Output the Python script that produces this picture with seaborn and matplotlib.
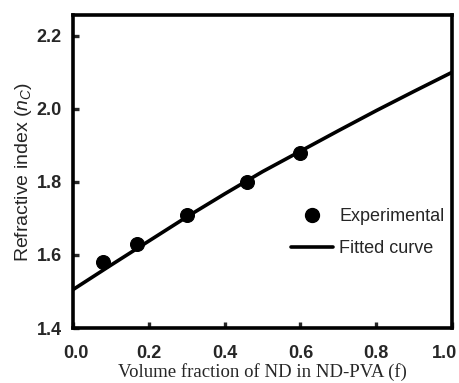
import matplotlib
matplotlib.use("Agg")
import matplotlib.pyplot as plt
import matplotlib.transforms as mtransforms
import seaborn as sns
import pandas as pd
from matplotlib.lines import Line2D

# Experimental data
exp_f = [0.08, 0.17, 0.30, 0.46, 0.60]
exp_n = [1.58, 1.63, 1.71, 1.80, 1.88]

# Fitted curve
fit_f = [0.0, 0.1, 0.2, 0.3, 0.4, 0.5, 0.6, 0.7, 0.8, 0.9, 1.0]
fit_n = [1.505, 1.572, 1.638, 1.704, 1.767, 1.828, 1.884, 1.940, 1.995, 2.048, 2.100]

x_ticks = [0.0, 0.2, 0.4, 0.6, 0.8, 1.0]
y_ticks = [1.4, 1.6, 1.8, 2.0, 2.2]

sns.set_style("ticks")
plt.rcParams['font.family'] = ['Liberation Sans', 'DejaVu Sans']
plt.rcParams['mathtext.fontset'] = 'custom'
plt.rcParams['mathtext.it'] = 'Liberation Sans:italic'
plt.rcParams['mathtext.rm'] = 'Liberation Sans'

fig = plt.figure(figsize=(4.59, 3.83), dpi=100)
ax = fig.add_axes([0.159, 0.1436, 0.826, 0.8175])

df_exp = pd.DataFrame({"f": exp_f, "n": exp_n})
df_fit = pd.DataFrame({"f": fit_f, "n": fit_n})

sns.lineplot(data=df_fit, x="f", y="n", ax=ax, color="black", linewidth=2.6, zorder=2)
sns.scatterplot(data=df_exp, x="f", y="n", ax=ax, color="black", s=100, edgecolor="black", zorder=3)

ax.set_xlim(0, 1.0)
ax.set_ylim(1.4, 2.257)
ax.set_xticks(x_ticks)
ax.set_yticks(y_ticks)
ax.set_xticklabels([f"{v:.1f}" for v in x_ticks], fontsize=13, fontweight="bold")
ax.set_yticklabels([f"{v:.1f}" for v in y_ticks], fontsize=13, fontweight="bold")
ax.tick_params(axis="x", direction="in", length=4, width=2.4, pad=12, top=False)
ax.tick_params(axis="y", direction="in", length=4, width=2.4, pad=8, right=False)

# nudge first and last x tick labels inward, as in the reference
xlabels = ax.get_xticklabels()
xlabels[0].set_transform(xlabels[0].get_transform() +
                         mtransforms.ScaledTranslation(3 / 100, 0, fig.dpi_scale_trans))
xlabels[-1].set_transform(xlabels[-1].get_transform() +
                          mtransforms.ScaledTranslation(-8 / 100, 0, fig.dpi_scale_trans))

for sp in ax.spines.values():
    sp.set_linewidth(2.6)
    sp.set_color("black")

ax.set_xlabel("Volume fraction of ND in ND-PVA (f)", fontsize=13.5,
              family=["Liberation Serif", "DejaVu Serif"], labelpad=1)
ax.set_ylabel(r"Refractive index ($n_C$)", fontsize=14, labelpad=2)

handles = [
    Line2D([], [], marker="o", linestyle="none", color="black", markersize=10),
    Line2D([], [], color="black", linewidth=2.6),
]
ax.legend(handles, ["Experimental", "Fitted curve"], loc="upper left",
          bbox_to_anchor=(0.533, 0.435), frameon=False, fontsize=13,
          handlelength=2.3, handletextpad=0.35, labelspacing=0.85)

fig.savefig("out.png", dpi=100)
